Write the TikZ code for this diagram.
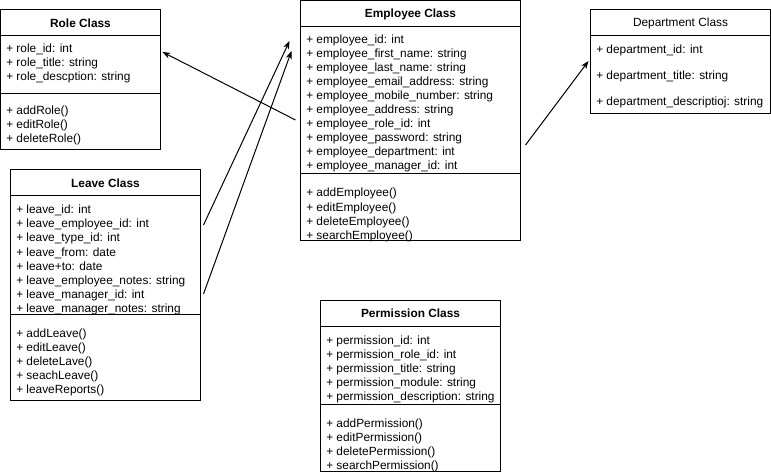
\documentclass[tikz,border=0pt]{standalone}
\usepackage{fontspec}
\setmainfont{Liberation Sans}
\usetikzlibrary{calc,arrows.meta}
\begin{document}
\begin{tikzpicture}[x=0.75pt,y=-0.75pt,
  umlbox/.style={draw, line width=0.75pt, anchor=north west, inner sep=0pt, outer sep=0pt},
  ttl/.style={font=\fontsize{8.9pt}{10.5pt}\selectfont\bfseries, inner sep=0pt},
  ttlplain/.style={font=\fontsize{8.9pt}{10.5pt}\selectfont, inner sep=0pt},
  txt/.style={font=\fontsize{8.9pt}{10.5pt}\selectfont, anchor=base west, inner sep=0pt},
  sep/.style={line width=0.75pt},
  arr/.style={line width=0.75pt, -{Stealth[length=6pt,width=4.5pt,inset=1.8pt]}}]
\useasboundingbox (0,0) rectangle (771,474);

% ---------- Role Class ----------
\node[umlbox, minimum width=120pt, minimum height=105pt] (role) at (0.5,10) {};
\node[ttl] (roleT) at ($(role.north)+(0,13)$) {Role Class};
\draw[sep] ($(role.north west)+(0,26)$) -- ($(role.north east)+(0,26)$);
\draw[sep] ($(role.north west)+(0,84)$) -- ($(role.north east)+(0,84)$);
\foreach \t [count=\i from 0] in {+ role\_id: int, + role\_title: string, + role\_descption: string}
  \node[txt] (ra\i) at ($(role.north west)+(5.5,43+14*\i)$) {\t};
\foreach \t [count=\i from 0] in {+ addRole(), + editRole(), + deleteRole()}
  \node[txt] (rm\i) at ($(role.north west)+(5.5,105+14*\i)$) {\t};

% ---------- Employee Class ----------
\node[umlbox, minimum width=165pt, minimum height=179.25pt] (emp) at (300.5,1) {};
\node[ttl] (empT) at ($(emp.north)+(0,13)$) {Employee Class};
\draw[sep] ($(emp.north west)+(0,26)$) -- ($(emp.north east)+(0,26)$);
\draw[sep] ($(emp.north west)+(0,173)$) -- ($(emp.north east)+(0,173)$);
\foreach \t [count=\i from 0] in {+ employee\_id: int, + employee\_first\_name: string, + employee\_last\_name: string, + employee\_email\_address: string, + employee\_mobile\_number: string, + employee\_address: string, + employee\_role\_id: int, + employee\_password: string, + employee\_department: int, + employee\_manager\_id: int}
  \node[txt] (ea\i) at ($(emp.north west)+(5.5,43+14*\i)$) {\t};
\foreach \t [count=\i from 0] in {+ addEmployee(), + editEmployee(), + deleteEmployee(), + searchEmployee()}
  \node[txt] (em\i) at ($(emp.north west)+(5.5,196+14*\i)$) {\t};

% ---------- Department Class ----------
\node[umlbox, minimum width=135pt, minimum height=78pt] (dept) at (590.5,10) {};
\node[ttlplain] (deptT) at ($(dept.north)+(0,13)$) {Department Class};
\draw[sep] ($(dept.north west)+(0,26)$) -- ($(dept.north east)+(0,26)$);
\foreach \t [count=\i from 0] in {+ department\_id: int, + department\_title: string, + department\_descriptioj: string}
  \node[txt] (da\i) at ($(dept.north west)+(5.5,44+26*\i)$) {\t};

% ---------- Leave Class ----------
\node[umlbox, minimum width=142.5pt, minimum height=172.5pt] (leave) at (10.5,170) {};
\node[ttl] (leaveT) at ($(leave.north)+(0,13)$) {Leave Class};
\draw[sep] ($(leave.north west)+(0,26)$) -- ($(leave.north east)+(0,26)$);
\draw[sep] ($(leave.north west)+(0,144)$) -- ($(leave.north east)+(0,144)$);
\foreach \t [count=\i from 0] in {+ leave\_id: int, + leave\_employee\_id: int, + leave\_type\_id: int, + leave\_from: date, + leave+to: date, + leave\_employee\_notes: string, + leave\_manager\_id: int, + leave\_manager\_notes: string}
  \node[txt] (la\i) at ($(leave.north west)+(5.5,44+14*\i)$) {\t};
\foreach \t [count=\i from 0] in {+ addLeave(), + editLeave(), + deleteLave(), + seachLeave(), + leaveReports()}
  \node[txt] (lm\i) at ($(leave.north west)+(5.5,167+14*\i)$) {\t};

% ---------- Permission Class ----------
\node[umlbox, minimum width=135pt, minimum height=128.25pt] (perm) at (320.5,300) {};
\node[ttl] (permT) at ($(perm.north)+(0,13)$) {Permission Class};
\draw[sep] ($(perm.north west)+(0,26)$) -- ($(perm.north east)+(0,26)$);
\draw[sep] ($(perm.north west)+(0,104)$) -- ($(perm.north east)+(0,104)$);
\foreach \t [count=\i from 0] in {+ permission\_id: int, + permission\_role\_id: int, + permission\_title: string, + permission\_module: string, + permission\_description: string}
  \node[txt] (pa\i) at ($(perm.north west)+(5.5,44+14*\i)$) {\t};
\foreach \t [count=\i from 0] in {+ addPermission(), + editPermission(), + deletePermission(), + searchPermission()}
  \node[txt] (pm\i) at ($(perm.north west)+(5.5,127+14*\i)$) {\t};

% ---------- Connectors ----------
\draw[arr] ($(emp.north west)+(-5,119)$) -- ($(role.north east)+(2,42)$);
\draw[arr] ($(leave.north east)+(3,55)$) -- ($(emp.north west)+(-11,40)$);
\draw[arr] ($(leave.north east)+(3,124)$) -- ($(emp.north west)+(-9,50)$);
\draw[arr] ($(emp.north east)+(5,144)$) -- ($(dept.north west)+(-2,51)$);
\end{tikzpicture}
\end{document}
